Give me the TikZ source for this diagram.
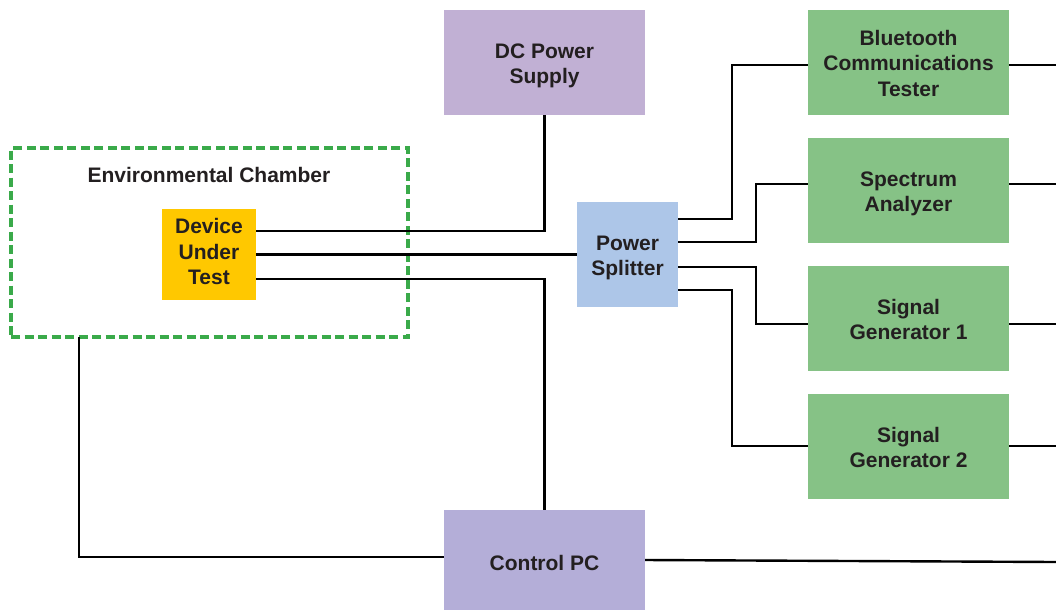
\documentclass[tikz,border=0pt]{standalone}
\usepackage{fontspec}
\setmainfont{Liberation Sans}
\definecolor{txt}{HTML}{231F20}
\definecolor{dcpur}{HTML}{C1B0D4}
\definecolor{pcpur}{HTML}{B4AED8}
\definecolor{grn}{HTML}{86C286}
\definecolor{psblue}{HTML}{ADC6E8}
\definecolor{dutyel}{HTML}{FFC800}
\definecolor{chgrn}{HTML}{3AAA4A}
\newcommand{\dn}[1]{\rule{0pt}{#1}}
\begin{document}
\begin{tikzpicture}[x=1pt,y=-1pt,
  box/.style={inner sep=0pt,outer sep=0pt,align=center,text=txt,
    font=\fontsize{21}{25.5}\selectfont\bfseries},
  wide/.style={box,minimum width=201pt,minimum height=105pt},
  wire/.style={line width=2.4pt,black}]
\useasboundingbox (0,0) rectangle (1056,610);
% chamber
\node[inner sep=0pt,outer sep=0pt,minimum width=397pt,minimum height=189pt,
  draw=chgrn,line width=3.2pt,dash pattern=on 9pt off 4.5pt] (Ch) at (209.5,242.5) {};
\node[box] (ChL) at (209,175) {Environmental Chamber};
% nodes
\node[wide,fill=dcpur] (DC) at (544.5,62.5) {\parbox{200pt}{\centering\dn{21pt}DC Power\\Supply}};
\node[wide,fill=grn] (BT) at (908.5,62.5) {\parbox{200pt}{\centering\dn{17pt}Bluetooth\\Communications\\Tester}};
\node[wide,fill=grn] (SA) at (908.5,190.5) {\parbox{200pt}{\centering\dn{21pt}Spectrum\\Analyzer}};
\node[wide,fill=grn] (SG1) at (908.5,318.5) {\parbox{200pt}{\centering\dn{17pt}Signal\\Generator 1}};
\node[wide,fill=grn] (SG2) at (908.5,446.5) {\parbox{200pt}{\centering\dn{17pt}Signal\\Generator 2}};
\node[box,fill=psblue,minimum width=101pt,minimum height=105pt] (PS) at (627.5,254.5) {\parbox{100pt}{\centering\dn{21pt}Power\\Splitter}};
\node[box,fill=dutyel,minimum width=94pt,minimum height=91pt] (DUT) at (209,254.5) {\parbox{93pt}{\centering Device\\Under\\Test\rule[-6pt]{0pt}{0pt}}};
\node[box,fill=pcpur,minimum width=201pt,minimum height=100pt] (PC) at (544.5,560) {\dn{21pt}Control PC};
% free ends
\coordinate (e1) at (1056,65);
\coordinate (e2) at (1056,184);
\coordinate (e3) at (1056,324);
\coordinate (e4) at (1056,446);
\coordinate (e5) at (1056,562);
% wires
\draw[wire] (DUT.east |- 0,231) -| (DC.south);
\draw[wire] (DUT.east) -- (PS.west);
\draw[wire] (DUT.east |- 0,279) -| (PC.north);
\draw[wire] (PS.east |- 0,219) -- (732,219) |- (BT.west |- e1);
\draw[wire] (PS.east |- 0,242) -- (756,242) |- (SA.west |- e2);
\draw[wire] (PS.east |- 0,267) -- (756,267) |- (SG1.west |- e3);
\draw[wire] (PS.east |- 0,290) -- (732,290) |- (SG2.west |- e4);
\draw[wire] (BT.east |- e1) -- (e1);
\draw[wire] (SA.east |- e2) -- (e2);
\draw[wire] (SG1.east |- e3) -- (e3);
\draw[wire] (SG2.east |- e4) -- (e4);
\draw[wire] (PC.east |- 0,560) -- (e5);
\draw[wire] (Ch.south -| 79,0) |- (PC.west |- 0,557);
\end{tikzpicture}
\end{document}
